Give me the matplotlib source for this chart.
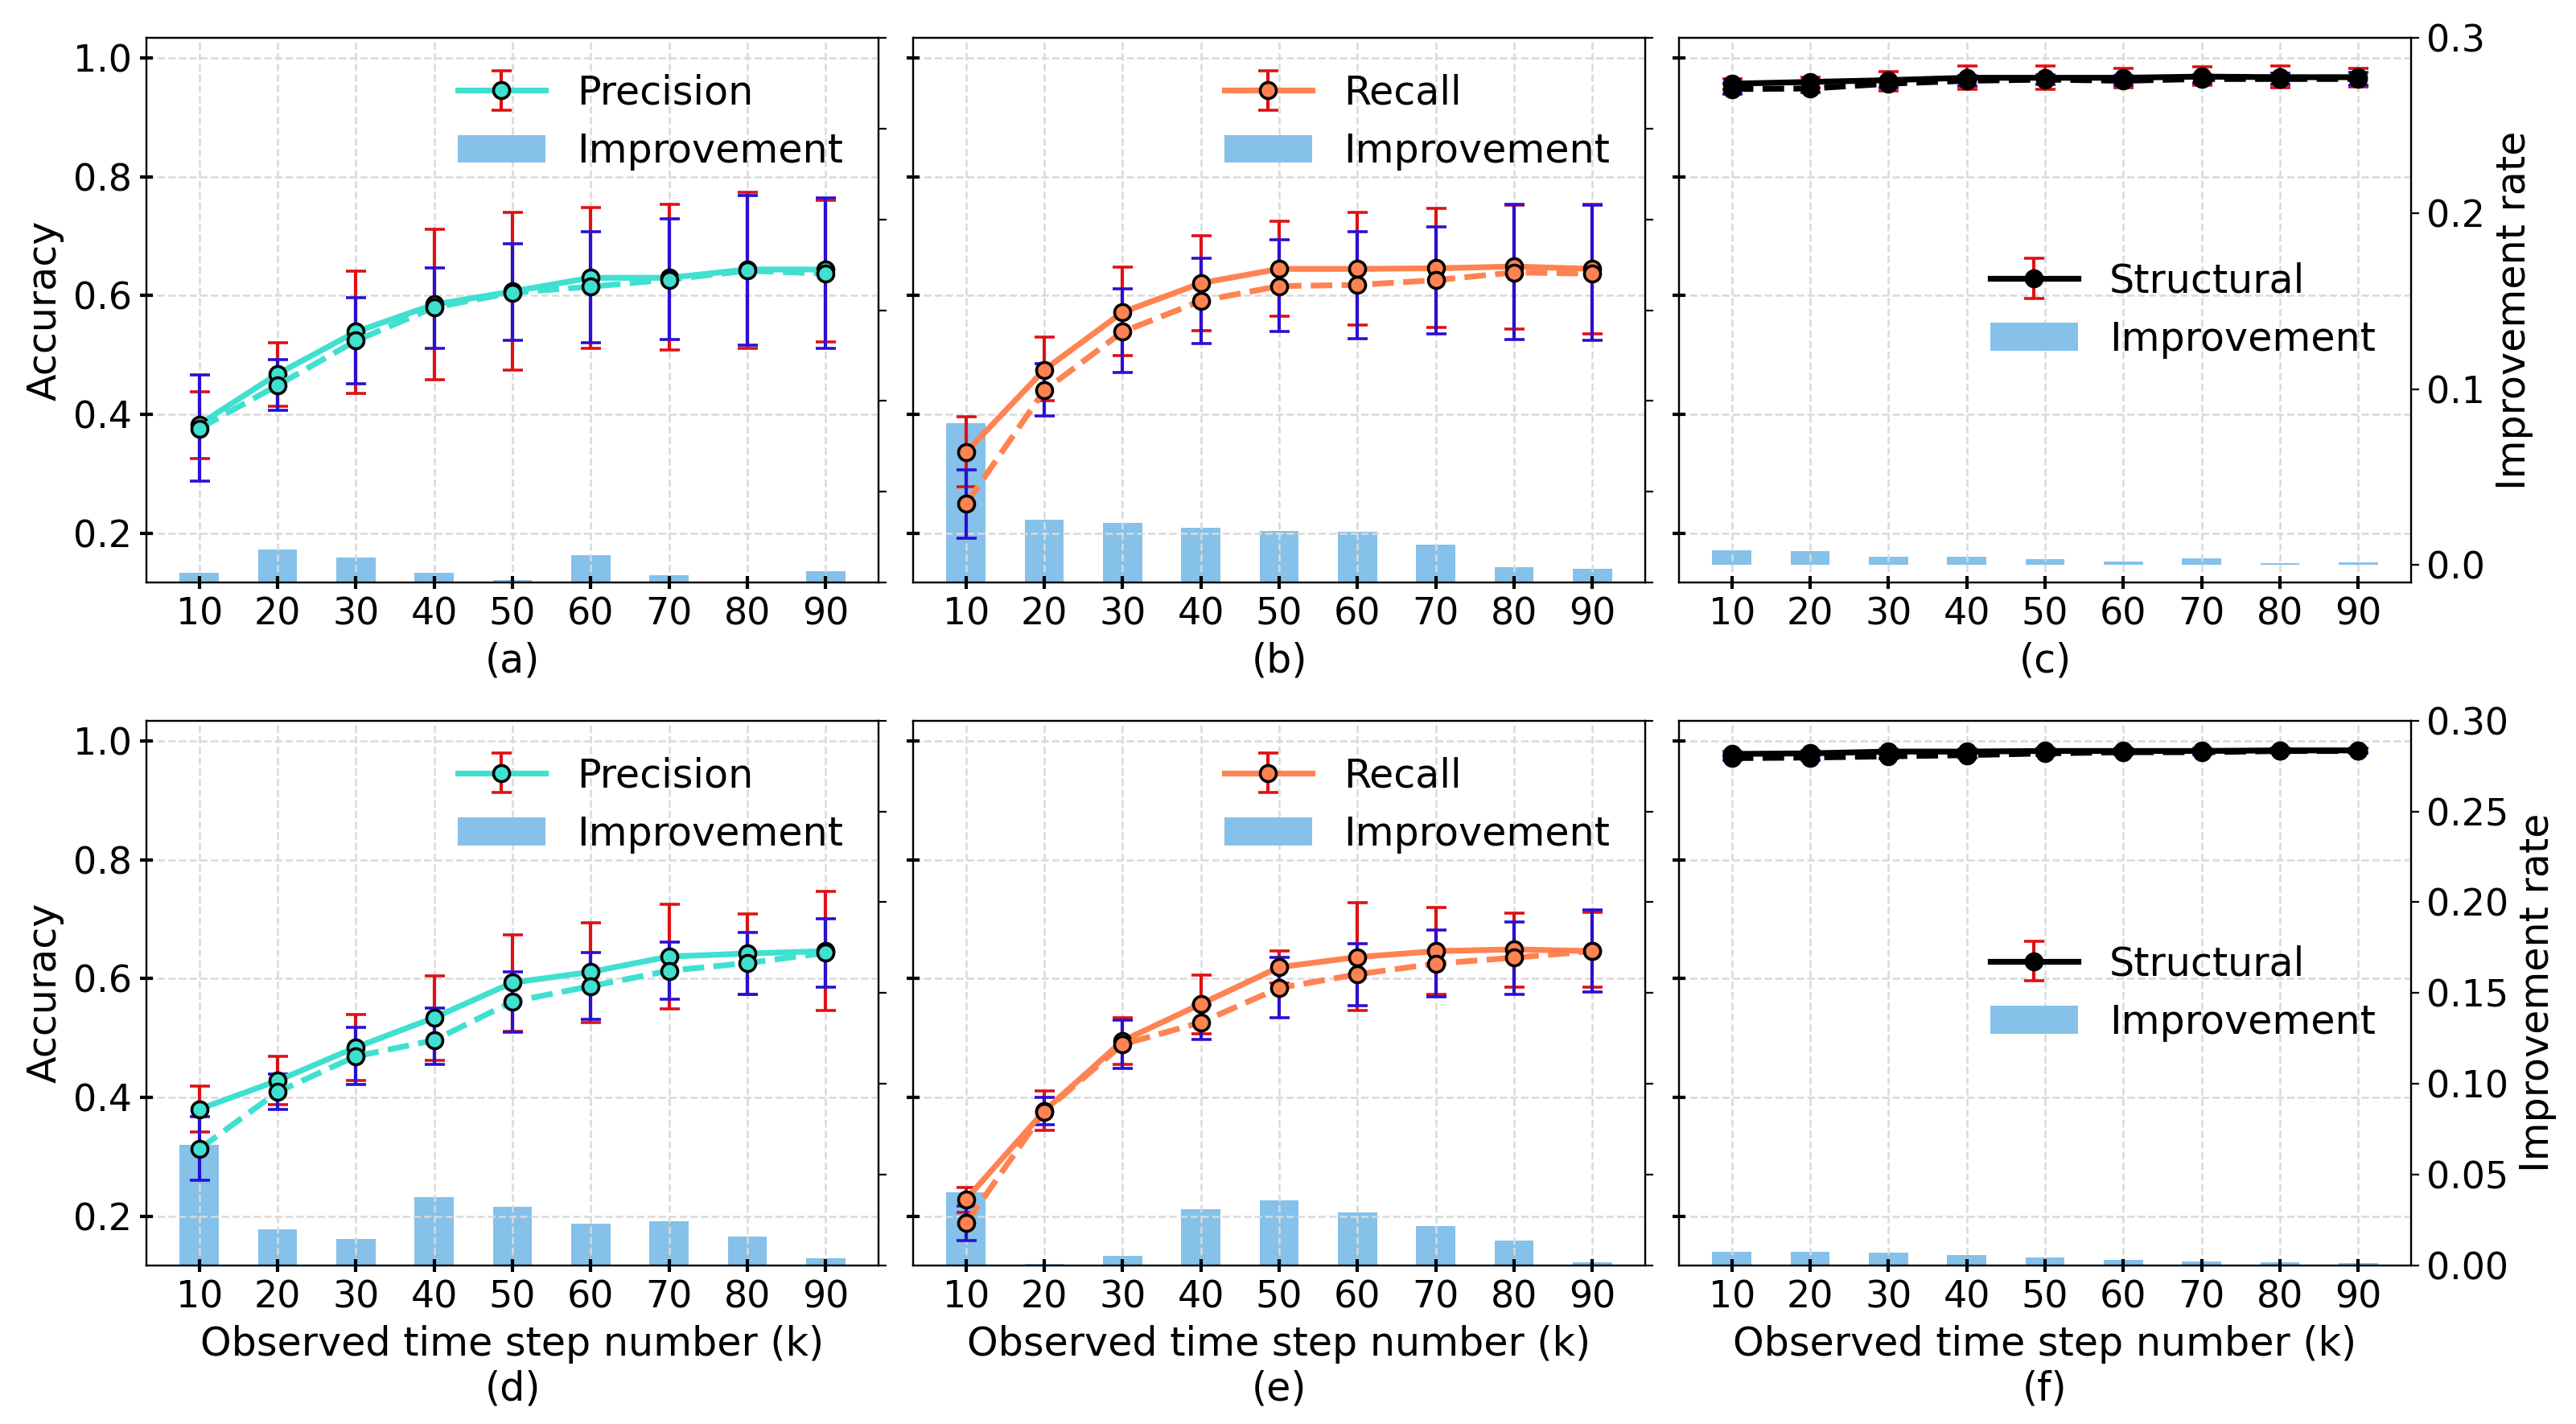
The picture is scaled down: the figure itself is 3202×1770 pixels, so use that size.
import matplotlib
matplotlib.use("Agg")
import matplotlib.pyplot as plt
import numpy as np

# x axis: observed time step number
steps = [10, 20, 30, 40, 50, 60, 70, 80, 90]

# (a) precision, setting 1
a_solid = [0.383, 0.468, 0.539, 0.585, 0.607, 0.630, 0.630, 0.644, 0.644]
a_solid_lo = [0.326, 0.413, 0.435, 0.458, 0.474, 0.511, 0.508, 0.511, 0.522]
a_solid_hi = [0.438, 0.521, 0.641, 0.712, 0.740, 0.749, 0.754, 0.774, 0.760]
a_dashed = [0.376, 0.449, 0.524, 0.580, 0.605, 0.615, 0.627, 0.642, 0.637]
a_dashed_lo = [0.288, 0.407, 0.452, 0.511, 0.524, 0.521, 0.526, 0.517, 0.511]
a_dashed_hi = [0.466, 0.492, 0.596, 0.646, 0.688, 0.708, 0.729, 0.769, 0.764]
a_improve = [0.0053, 0.0180, 0.0137, 0.0053, 0.0012, 0.0149, 0.0038, 0.0, 0.0060]

# (b) recall, setting 1
b_solid = [0.336, 0.475, 0.572, 0.621, 0.645, 0.645, 0.646, 0.649, 0.645]
b_solid_lo = [0.278, 0.423, 0.499, 0.541, 0.566, 0.550, 0.546, 0.544, 0.535]
b_solid_hi = [0.396, 0.530, 0.648, 0.701, 0.725, 0.740, 0.747, 0.752, 0.754]
b_dashed = [0.249, 0.440, 0.539, 0.591, 0.616, 0.618, 0.626, 0.639, 0.637]
b_dashed_lo = [0.191, 0.397, 0.471, 0.519, 0.540, 0.528, 0.535, 0.526, 0.525]
b_dashed_hi = [0.306, 0.486, 0.611, 0.663, 0.694, 0.708, 0.716, 0.754, 0.752]
b_improve = [0.0877, 0.0344, 0.0327, 0.0300, 0.0281, 0.0279, 0.0207, 0.0082, 0.0075]

# (c) structural, setting 1
c_solid = [0.957, 0.960, 0.963, 0.967, 0.967, 0.967, 0.969, 0.968, 0.968]
c_solid_lo = [0.947, 0.950, 0.945, 0.947, 0.948, 0.950, 0.954, 0.950, 0.952]
c_solid_hi = [0.965, 0.968, 0.978, 0.987, 0.987, 0.983, 0.985, 0.987, 0.983]
c_dashed = [0.948, 0.949, 0.957, 0.962, 0.964, 0.962, 0.965, 0.965, 0.965]
c_dashed_lo = [0.940, 0.942, 0.950, 0.953, 0.956, 0.955, 0.958, 0.956, 0.955]
c_dashed_hi = [0.957, 0.958, 0.965, 0.970, 0.972, 0.970, 0.972, 0.975, 0.976]
c_improve = [0.0082, 0.0077, 0.0045, 0.0045, 0.0032, 0.0020, 0.0037, 0.0010, 0.0015]

# (d) precision, setting 2
d_solid = [0.380, 0.428, 0.484, 0.534, 0.593, 0.611, 0.637, 0.642, 0.646]
d_solid_lo = [0.341, 0.387, 0.428, 0.462, 0.511, 0.526, 0.549, 0.573, 0.546]
d_solid_hi = [0.419, 0.469, 0.540, 0.605, 0.673, 0.694, 0.725, 0.708, 0.747]
d_dashed = [0.313, 0.409, 0.469, 0.496, 0.561, 0.587, 0.613, 0.626, 0.643]
d_dashed_lo = [0.260, 0.380, 0.422, 0.455, 0.510, 0.531, 0.565, 0.573, 0.585]
d_dashed_hi = [0.368, 0.439, 0.518, 0.550, 0.611, 0.643, 0.661, 0.677, 0.700]
d_improve = [0.0663, 0.0198, 0.0146, 0.0377, 0.0322, 0.0229, 0.0242, 0.0159, 0.0039]

# (e) recall, setting 2
e_solid = [0.228, 0.377, 0.495, 0.557, 0.619, 0.636, 0.646, 0.649, 0.646]
e_solid_lo = [0.206, 0.344, 0.455, 0.507, 0.592, 0.546, 0.573, 0.586, 0.585]
e_solid_hi = [0.248, 0.411, 0.534, 0.606, 0.647, 0.727, 0.719, 0.710, 0.712]
e_dashed = [0.188, 0.376, 0.489, 0.526, 0.584, 0.607, 0.625, 0.635, 0.646]
e_dashed_lo = [0.159, 0.354, 0.449, 0.498, 0.534, 0.554, 0.569, 0.573, 0.577]
e_dashed_hi = [0.217, 0.400, 0.530, 0.555, 0.636, 0.659, 0.681, 0.695, 0.716]
e_improve = [0.0403, 0.0008, 0.0052, 0.0310, 0.0359, 0.0291, 0.0216, 0.0138, 0.0018]

# (f) structural, setting 2
f_solid = [0.978, 0.979, 0.982, 0.982, 0.983, 0.983, 0.983, 0.984, 0.984]
f_solid_lo = [0.974, 0.975, 0.978, 0.978, 0.979, 0.979, 0.979, 0.980, 0.980]
f_solid_hi = [0.982, 0.983, 0.986, 0.986, 0.987, 0.987, 0.987, 0.988, 0.988]
f_dashed = [0.971, 0.972, 0.974, 0.976, 0.979, 0.981, 0.981, 0.983, 0.983]
f_dashed_lo = [0.967, 0.968, 0.970, 0.972, 0.975, 0.977, 0.977, 0.979, 0.979]
f_dashed_hi = [0.975, 0.976, 0.978, 0.980, 0.983, 0.985, 0.985, 0.987, 0.987]
f_improve = [0.0075, 0.0075, 0.0070, 0.0057, 0.0044, 0.0031, 0.0021, 0.0018, 0.0013]

RED = "#e01014"
BLUE = "#2b0fd2"
BAR = "#85c1e9"

plt.rcParams["font.family"] = ["DejaVu Sans"]
plt.rcParams["font.size"] = 17.7
plt.rcParams["xtick.labelsize"] = 16.5
plt.rcParams["ytick.labelsize"] = 16.5


def draw_panel(ax, solid, s_lo, s_hi, dashed, d_lo, d_hi, improve,
               color, label, caption, legend_loc):
    x = np.array(steps)
    ax2 = ax.twinx()
    bars = ax2.bar(x, improve, width=5, color=BAR, label="Improvement")

    s = np.array(solid)
    d = np.array(dashed)
    s_err = [s - np.array(s_lo), np.array(s_hi) - s]
    d_err = [d - np.array(d_lo), np.array(d_hi) - d]
    eb = ax.errorbar(x, s, yerr=s_err, color=color, lw=2.6, marker="o",
                     ms=7.2, mfc=color, mec="black", mew=1.3,
                     ecolor=RED, elinewidth=1.5, capsize=4.5, capthick=1.5,
                     label=label)
    ax.errorbar(x, d, yerr=d_err, color=color, lw=2.6, ls="--", marker="o",
                ms=7.2, mfc=color, mec="black", mew=1.3,
                ecolor=BLUE, elinewidth=1.5, capsize=4.5, capthick=1.5)

    # lines above the bars
    ax.set_zorder(ax2.get_zorder() + 1)
    ax.patch.set_visible(False)

    ax.set_ylim(0.117, 1.034)
    ax.set_yticks([0.2, 0.4, 0.6, 0.8, 1.0])
    ax.set_xticks(steps)
    ax.tick_params(axis="both", direction="inout", length=6, width=1.5)
    ax.grid(True, ls="--", color="#d9d9d9", lw=0.9)
    ax.set_xlabel(caption)

    ax.legend([eb, bars], [label, "Improvement"], loc=legend_loc,
              frameon=False, handlelength=2.2)
    return ax2


fig = plt.figure(figsize=(16.01, 8.85), dpi=200)
lefts = [0.05684, 0.35447, 0.65178]
width = 0.2842
rows = [(0.5911, 0.3822), (0.1114, 0.3825)]

panels = [
    (a_solid, a_solid_lo, a_solid_hi, a_dashed, a_dashed_lo, a_dashed_hi, a_improve,
     "#40e0d0", "Precision", "(a)"),
    (b_solid, b_solid_lo, b_solid_hi, b_dashed, b_dashed_lo, b_dashed_hi, b_improve,
     "#ff8352", "Recall", "(b)"),
    (c_solid, c_solid_lo, c_solid_hi, c_dashed, c_dashed_lo, c_dashed_hi, c_improve,
     "black", "Structural", "(c)"),
    (d_solid, d_solid_lo, d_solid_hi, d_dashed, d_dashed_lo, d_dashed_hi, d_improve,
     "#40e0d0", "Precision", "Observed time step number (k)\n(d)"),
    (e_solid, e_solid_lo, e_solid_hi, e_dashed, e_dashed_lo, e_dashed_hi, e_improve,
     "#ff8352", "Recall", "Observed time step number (k)\n(e)"),
    (f_solid, f_solid_lo, f_solid_hi, f_dashed, f_dashed_lo, f_dashed_hi, f_improve,
     "black", "Structural", "Observed time step number (k)\n(f)"),
]

for i, p in enumerate(panels):
    r, c = divmod(i, 3)
    bottom, height = rows[r]
    ax = fig.add_axes([lefts[c], bottom, width, height])
    loc = "center right" if c == 2 else "upper right"
    ax2 = draw_panel(ax, *p, legend_loc=loc)

    if c == 0:
        ax.set_ylabel("Accuracy")
    else:
        ax.tick_params(axis="y", labelleft=False)

    if c == 2:
        ax2.set_ylabel("Improvement rate")
        if r == 0:
            ax2.set_ylim(-0.01, 0.3)
            ax2.set_yticks([0.0, 0.1, 0.2, 0.3])
        else:
            ax2.set_ylim(0, 0.3)
            ax2.set_yticks([0.0, 0.05, 0.10, 0.15, 0.20, 0.25, 0.30])
    else:
        ax2.set_ylim(0, 0.3)
        ax2.set_yticks([0.0, 0.05, 0.10, 0.15, 0.20, 0.25, 0.30])
        ax2.tick_params(axis="y", labelright=False)

fig.savefig("out.png", dpi=200)
